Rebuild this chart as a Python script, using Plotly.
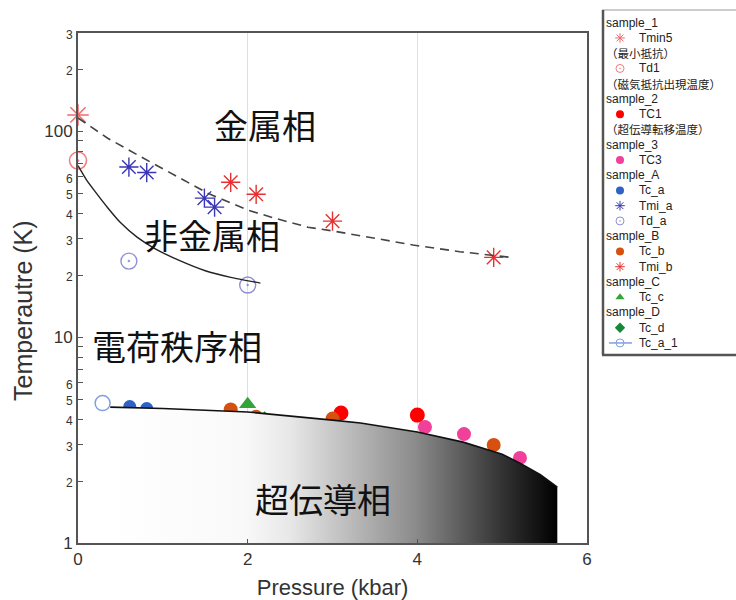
import plotly.graph_objects as go

# ---- data -------------------------------------------------------------
# sample_1
tmin5_p, tmin5_t = [0.0], [120]
td1_p, td1_t = [0.0], [72]
# sample_2 / sample_3
tc1_p, tc1_t = [3.1, 4.0], [4.28, 4.18]
tc3_p, tc3_t = [4.09, 4.55, 5.21], [3.66, 3.38, 2.59]
# sample_A
tca_p, tca_t = [0.61, 0.81], [4.6, 4.5]
tmia_p, tmia_t = [0.6, 0.81, 1.49, 1.61], [67, 63, 47.3, 42.8]
tda_p, tda_t = [0.6, 2.0], [23.4, 17.9]
# sample_B
tcb_p, tcb_t = [1.8, 2.1, 3.0, 4.9], [4.45, 4.1, 4.02, 2.99]
tmib_p, tmib_t = [1.8, 2.1, 3.0, 4.9], [56.5, 49.4, 36.6, 24.4]
# sample_C / sample_D
tcc_p, tcc_t = [2.0], [4.72]
tcd_p, tcd_t = [2.2], [4.0]
tca1_p, tca1_t = [0.29], [4.78]

# guide lines
mi_line_p = [0.0, 0.35, 0.75, 1.14, 1.53, 2.0, 2.32, 2.71, 3.0, 3.5, 3.95, 4.5, 5.1]
mi_line_t = [116, 92.5, 74.8, 61.2, 50, 41.4, 37.8, 34.2, 32.8, 30.2, 28, 26, 24.4]
td_line_p = [0.0, 0.1, 0.2, 0.35, 0.5, 0.7, 0.9, 1.2, 1.5, 1.8, 2.15]
td_line_t = [68, 58, 51, 42.5, 36, 30.5, 27, 23.5, 21, 19.5, 18.3]
sc_line_p = [0.38, 1.0, 2.0, 2.5, 3.0, 3.33, 4.0, 4.54, 5.0, 5.21, 5.45, 5.65]
sc_line_t = [4.57, 4.5, 4.33, 4.15, 3.95, 3.83, 3.46, 3.09, 2.7, 2.44, 2.15, 1.87]

x_ticks = [0, 2, 4, 6]
y_ticks = [1, 2, 3, 4, 5, 6, 7, 8, 9,
           10, 20, 30, 40, 50, 60, 70, 80, 90,
           100, 200, 300]
y_tick_text = ["1", "2", "3", "4", "5", "6", "", "", "",
               "10", "2", "3", "4", "5", "6", "", "", "",
               "100", "2", "3"]

phase_labels = ["金属相", "非金属相", "電荷秩序相", "超伝導相"]

# legend rows: ("title", text) or ("item", series name)
legend_rows = [
    ("title", "sample_1"), ("item", "Tmin5"),
    ("title", "（最小抵抗）"), ("item", "Td1"),
    ("title", "（磁気抵抗出現温度）"),
    ("title", "sample_2"), ("item", "TC1"),
    ("title", "（超伝導転移温度）"),
    ("title", "sample_3"), ("item", "TC3"),
    ("title", "sample_A"), ("item", "Tc_a"), ("item", "Tmi_a"), ("item", "Td_a"),
    ("title", "sample_B"), ("item", "Tc_b"), ("item", "Tmi_b"),
    ("title", "sample_C"), ("item", "Tc_c"),
    ("title", "sample_D"), ("item", "Tc_d"), ("item", "Tc_a_1"),
]

# ---- layout geometry (pixels) ----------------------------------------
W, H = 736, 600
L, B = 78, 57                 # left / bottom margins
PAPER_W, PAPER_H = W - L, H - B
PLOT_R, PLOT_T = 587, 33      # right / top edge of the main plot
LEG_L = 600                   # left edge of the legend panel
ROW0, ROW_H = 22.7, 15.25     # legend first row centre and row pitch


def px_to_paper(px, py):
    return (px - L) / PAPER_W, (H - B - py) / PAPER_H


def small(s):
    if s in ("", "1", "10", "100"):
        return s
    return '<span style="font-size:12px">' + s + "</span>"


# series styles: name -> (x, y, symbol, colour, size, outline width, clip)
series = {
    "Tmin5": (tmin5_p, tmin5_t, "asterisk-open", "#f26a6a", 18, 1.5, False),
    "Td1": (td1_p, td1_t, "circle-open-dot", "#f27a7a", 17, 1.5, False),
    "TC1": (tc1_p, tc1_t, "circle", "#ff0000", 15, 0, True),
    "TC3": (tc3_p, tc3_t, "circle", "#f0409a", 14, 0, True),
    "Tc_a": (tca_p, tca_t, "circle", "#2f62c4", 13, 0, True),
    "Tmi_a": (tmia_p, tmia_t, "asterisk-open", "#3a36b4", 16, 1.4, True),
    "Td_a": (tda_p, tda_t, "circle-open-dot", "#8f8fd6", 16, 1.4, True),
    "Tc_b": (tcb_p, tcb_t, "circle", "#d65010", 14, 0, True),
    "Tmi_b": (tmib_p, tmib_t, "asterisk-open", "#e83030", 16, 1.4, True),
    "Tc_c": (tcc_p, tcc_t, "triangle-up", "#34a43a", 15, 0, True),
    "Tc_d": (tcd_p, tcd_t, "diamond", "#16883a", 12, 0, True),
}
TCA1_COLOR = "#7fa0e0"

fig = go.Figure()

for name, (xs, ys, sym, col, size, lw, clip) in series.items():
    fig.add_trace(go.Scatter(
        x=xs, y=ys, mode="markers", name=name, cliponaxis=clip,
        marker=dict(symbol=sym, color=col, size=size,
                    line=dict(color=col, width=lw)),
    ))

fig.add_trace(go.Scatter(
    x=tca1_p, y=tca1_t, mode="lines+markers", name="Tc_a_1",
    line=dict(color=TCA1_COLOR, width=1.5),
    marker=dict(symbol="circle-open", color=TCA1_COLOR, size=15,
                line=dict(color=TCA1_COLOR, width=1.5)),
))

# superconducting region, shaded white -> black with pressure
fig.add_trace(go.Scatter(
    x=sc_line_p + [sc_line_p[-1], sc_line_p[0]],
    y=sc_line_t + [1, 1],
    mode="lines", fill="toself", hoverinfo="skip",
    line=dict(width=0, color="rgba(0,0,0,0)"),
    fillgradient=dict(
        type="horizontal",
        colorscale=[[0, "#ffffff"], [0.3, "#f9f9f9"], [0.4, "#e8e8e8"],
                    [0.49, "#cacaca"], [0.68, "#8c8c8c"], [0.876, "#333333"],
                    [1, "#000000"]],
    ),
))
fig.add_trace(go.Scatter(
    x=sc_line_p, y=sc_line_t, mode="lines", hoverinfo="skip",
    line=dict(color="#111111", width=1.6),
))
fig.add_trace(go.Scatter(
    x=mi_line_p, y=mi_line_t, mode="lines", hoverinfo="skip",
    line=dict(color="#444444", width=1.6, dash="9px,6px"),
))
fig.add_trace(go.Scatter(
    x=td_line_p, y=td_line_t, mode="lines", hoverinfo="skip",
    line=dict(color="#222222", width=1.4, shape="spline", smoothing=0.6),
))

# phase names
for text, (px, py) in zip(phase_labels,
                          [(265, 125), (212, 234), (177, 345), (323, 498)]):
    ax, ay = px_to_paper(px, py)
    fig.add_annotation(x=ax, y=ay, xref="paper", yref="paper", text=text,
                       xanchor="center", yanchor="middle", showarrow=False,
                       font=dict(family="Noto Sans CJK JP", size=34, color="#111111"))

# y-axis title
tx, ty = px_to_paper(23, 311)
fig.add_annotation(x=tx, y=ty, xref="paper", yref="paper", text="Temperautre (K)",
                   textangle=-90, xanchor="center", yanchor="middle", showarrow=False,
                   font=dict(family="Liberation Sans", size=25, color="#333333"))

# ---- legend panel (its own hidden axes: x in px from the symbol column,
#      y in row numbers) -------------------------------------------------
SYM_X = 620
latin_font = dict(family="Liberation Sans", size=12, color="#222222")
cjk_font = dict(family="Noto Sans CJK JP", size=11.5, color="#222222")
for row, (kind, text) in enumerate(legend_rows):
    font = latin_font if text.isascii() else cjk_font
    if kind == "title":
        fig.add_annotation(x=605 - SYM_X, y=row, xref="x2", yref="y2", text=text,
                           xanchor="left", yanchor="middle", showarrow=False,
                           font=font, borderpad=0)
        continue
    fig.add_annotation(x=638 - SYM_X, y=row, xref="x2", yref="y2", text=text,
                       xanchor="left", yanchor="middle", showarrow=False,
                       font=font, borderpad=0)
    if text == "Tc_a_1":
        fig.add_trace(go.Scatter(
            x=[-11, 0, 12], y=[row, row, row], xaxis="x2", yaxis="y2",
            mode="lines", hoverinfo="skip", line=dict(color=TCA1_COLOR, width=1.5)))
        fig.add_trace(go.Scatter(
            x=[0], y=[row], xaxis="x2", yaxis="y2", mode="markers", hoverinfo="skip",
            marker=dict(symbol="circle-open", color=TCA1_COLOR, size=8,
                        line=dict(color=TCA1_COLOR, width=1))))
    else:
        _, _, sym, col, _, lw, _ = series[text]
        fig.add_trace(go.Scatter(
            x=[0], y=[row], xaxis="x2", yaxis="y2", mode="markers", hoverinfo="skip",
            marker=dict(symbol=sym, color=col, size=8,
                        line=dict(color=col, width=1 if lw else 0))))

leg_top, leg_bot = 10, 355
r_top = (leg_top - ROW0) / ROW_H
r_bot = (leg_bot - ROW0) / ROW_H
fig.add_shape(type="rect", xref="x2", yref="y2", x0=602 - SYM_X, x1=760 - SYM_X,
              y0=r_top, y1=r_bot, fillcolor="white", line=dict(width=0), layer="below")
fig.add_shape(type="line", xref="x2", yref="y2", x0=602 - SYM_X, x1=760 - SYM_X,
              y0=r_top, y1=r_top, line=dict(color="#9a9a9a", width=1))
fig.add_shape(type="line", xref="x2", yref="y2", x0=603 - SYM_X, x1=603 - SYM_X,
              y0=r_top, y1=r_bot, line=dict(color="#555555", width=2.5))
fig.add_shape(type="line", xref="x2", yref="y2", x0=602 - SYM_X, x1=760 - SYM_X,
              y0=r_bot, y1=r_bot, line=dict(color="#555555", width=2.5))

# ---- axes -------------------------------------------------------------
fig.update_layout(
    xaxis=dict(
        domain=[0, (PLOT_R - L) / PAPER_W],
        range=[0, 6], tickvals=x_ticks, ticktext=[str(v) for v in x_ticks],
        showgrid=True, gridcolor="#dcdcf2", gridwidth=1,
        zeroline=False, showline=True, linecolor="#555555", linewidth=2,
        mirror=True, ticks="inside", ticklen=4, tickcolor="#555555",
        tickfont=dict(family="Liberation Sans", size=17, color="#333333"),
        title=dict(text="Pressure (kbar)", standoff=13,
                   font=dict(family="Liberation Sans", size=22, color="#333333")),
    ),
    yaxis=dict(
        domain=[0, (H - B - PLOT_T) / PAPER_H],
        type="log", range=[0, 2.4771],
        tickvals=y_ticks, ticktext=[small(s) for s in y_tick_text],
        showgrid=False, zeroline=False, showline=True, linecolor="#555555",
        linewidth=2, mirror=True, ticks="inside", ticklen=5, tickcolor="#555555",
        tickfont=dict(family="Liberation Sans", size=17, color="#333333"),
    ),
    xaxis2=dict(domain=[(LEG_L - L) / PAPER_W, 1], anchor="y2",
                range=[LEG_L - SYM_X, W - SYM_X], visible=False, fixedrange=True),
    yaxis2=dict(domain=[0, 1], anchor="x2",
                range=[(PAPER_H - ROW0) / ROW_H, -ROW0 / ROW_H],
                visible=False, fixedrange=True),
    width=W, height=H,
    margin=dict(l=L, r=0, t=0, b=B, autoexpand=False),
    plot_bgcolor="white", paper_bgcolor="white",
    showlegend=False,
)

fig.write_html("out.html")
